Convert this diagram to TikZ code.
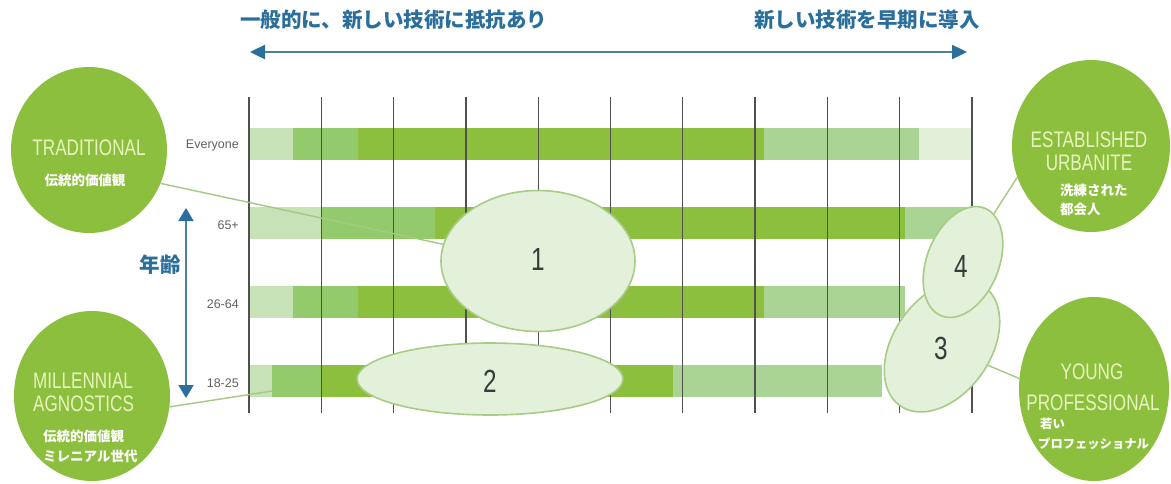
\documentclass[tikz,border=0pt]{standalone}
\usepackage{fontspec}
\setmainfont{Liberation Sans}
\newfontfamily\cond[FakeStretch=0.76]{Liberation Sans}
\newfontfamily\jp{Noto Sans CJK JP}
\usetikzlibrary{shapes.geometric,arrows.meta}
\definecolor{dkG}{HTML}{8DBF3E}
\definecolor{mdG}{HTML}{93CB6C}
\definecolor{lmG}{HTML}{AAD493}
\definecolor{ltG}{HTML}{C8E2B8}
\definecolor{vlG}{HTML}{E2F0DA}
\definecolor{ellF}{HTML}{E3F0DA}
\definecolor{ellD}{HTML}{A6CC86}
\definecolor{blu}{HTML}{2A6E9C}
\definecolor{bluline}{HTML}{4F7E9F}
\definecolor{circT}{HTML}{E8F4BE}
\definecolor{conn}{HTML}{A3C982}
\definecolor{gridc}{HTML}{505050}
\definecolor{numc}{HTML}{3A3A3A}
\tikzset{
  bigcirc/.style={ellipse, fill=dkG, inner sep=0pt},
  ell/.style={ellipse, fill=ellF, draw=ellD, line width=1.6pt, inner sep=0pt},
  num/.style={font=\cond\fontsize{32}{34}\selectfont, text=numc, inner sep=0pt},
  en/.style={font=\cond\fontsize{22.5}{24}\selectfont, text=circT, inner sep=0pt},
  jpw/.style={font=\jp\bfseries\fontsize{13.5}{15}\selectfont, text=white, inner sep=0pt},
  jps/.style={font=\jp\bfseries\fontsize{12.3}{14}\selectfont, text=white, inner sep=0pt},
  rowlab/.style={font=\fontsize{12.5}{14}\selectfont, text=gridc!90, anchor=east, inner sep=0pt},
  toptxt/.style={font=\jp\bfseries\fontsize{20.5}{22}\selectfont, text=blu, inner sep=0pt},
  connline/.style={draw=conn, line width=1.4pt},
  barrow/.style={draw=bluline, line width=2.4pt, {Triangle[length=15pt,width=14pt,color=blu]}-{Triangle[length=15pt,width=14pt,color=blu]}},
  vbarrow/.style={draw=bluline, line width=1.8pt, {Triangle[length=13pt,width=15pt,color=blu]}-{Triangle[length=13pt,width=15pt,color=blu]}},
}
\begin{document}
\begin{tikzpicture}[x=1pt,y=-1pt]
\useasboundingbox (0,0) rectangle (1171,483);
\fill[white] (0,0) rectangle (1171,483);

% bars: Everyone
\fill[ltG] (249,128) rectangle (293,160);
\fill[mdG] (293,128) rectangle (358,160);
\fill[dkG] (358,128) rectangle (764,160);
\fill[lmG] (764,128) rectangle (919,160);
\fill[vlG] (919,128) rectangle (972,160);
% 65+
\fill[ltG] (249,207) rectangle (322,239);
\fill[mdG] (322,207) rectangle (435,239);
\fill[dkG] (435,207) rectangle (905,239);
\fill[lmG] (905,207) rectangle (967,239);
% 26-64
\fill[ltG] (249,286) rectangle (293,318);
\fill[mdG] (293,286) rectangle (358,318);
\fill[dkG] (358,286) rectangle (764,318);
\fill[lmG] (764,286) rectangle (905,318);
% 18-25
\fill[ltG] (249,365) rectangle (272,397);
\fill[mdG] (272,365) rectangle (322,397);
\fill[dkG] (322,365) rectangle (673,397);
\fill[lmG] (673,365) rectangle (882,397);

% grid lines
\foreach \i in {0,...,10}
  \draw[gridc, line width=1.3pt] ({249+72.3*\i},97) -- ({249+72.3*\i},413);

% row labels
\node[rowlab] (lEv) at (239,145) {Everyone};
\node[rowlab] (l65) at (239,225) {65+};
\node[rowlab] (l26) at (239,304) {26-64};
\node[rowlab] (l18) at (239,383) {18-25};

% big circles
\node[bigcirc, minimum width=156pt, minimum height=166pt] (trad) at (89,150) {};
\node[bigcirc, minimum width=156pt, minimum height=170pt] (mill) at (92,396) {};
\node[bigcirc, minimum width=158pt, minimum height=172pt] (est) at (1091,146) {};
\node[bigcirc, minimum width=150pt, minimum height=184pt] (young) at (1094,389) {};

% small ellipses
\node[ell, minimum width=194pt, minimum height=141pt] (e1) at (538,261) {};
\node[ell, minimum width=266pt, minimum height=72pt] (e2) at (490,379) {};
\node[ell, minimum width=146pt, minimum height=97pt, rotate=55] (e3) at (942,346) {};
\node[ell, minimum width=116pt, minimum height=72pt, rotate=68] (e4) at (963,262) {};

% connectors
\coordinate (m2) at (272,391);
\draw[connline] (trad.-25) -- (e1.170);
\draw[connline] (mill.-8) -- (m2);
\draw[connline] (est.203) -- (e4);
\draw[connline] (young.172) -- (e3);

% numbers
\node[num] (n1) at (538,259) {1};
\node[num] (n2) at (490,381) {2};
\node[num] (n3) at (941,348) {3};
\node[num] (n4) at (961,266) {4};

% circle texts
\node[en] (tTrad) at (89,148) {TRADITIONAL};
\node[jpw] (tTradJ) at (85,180) {伝統的価値観};
\node[en, anchor=west] (tMill1) at (33,381) {MILLENNIAL};
\node[en, anchor=west] (tMill2) at (33,404) {AGNOSTICS};
\node[jpw, anchor=west] (tMillJ1) at (43,436) {伝統的価値観};
\node[jpw, anchor=west] (tMillJ2) at (43,456) {ミレニアル世代};
\node[en] (tEst1) at (1089,140) {ESTABLISHED};
\node[en] (tEst2) at (1089,163) {URBANITE};
\node[jpw, anchor=west] (tEstJ1) at (1060,190) {洗練された};
\node[jpw, anchor=west] (tEstJ2) at (1060,209) {都会人};
\node[en] (tY1) at (1092,372) {YOUNG};
\node[en] (tY2) at (1093,403) {PROFESSIONAL};
\node[jps, anchor=west] (tYJ1) at (1040,424) {若い};
\node[jps, anchor=west] (tYJ2) at (1038,444) {プロフェッショナル};

% top arrow and texts
\node[toptxt, anchor=west] (tl) at (240,20) {一般的に、新しい技術に抵抗あり};
\node[toptxt, anchor=east] (tr) at (980,20) {新しい技術を早期に導入};
\coordinate (aL) at (250,52);
\coordinate (aR) at (967,52);
\draw[barrow] (aL) -- (aR);

% age arrow
\coordinate (vT) at (186,208);
\coordinate (vB) at (186,398);
\draw[vbarrow] (vT) -- (vB);
\node[toptxt] (age) at (160,265) {年齢};
\end{tikzpicture}
\end{document}
